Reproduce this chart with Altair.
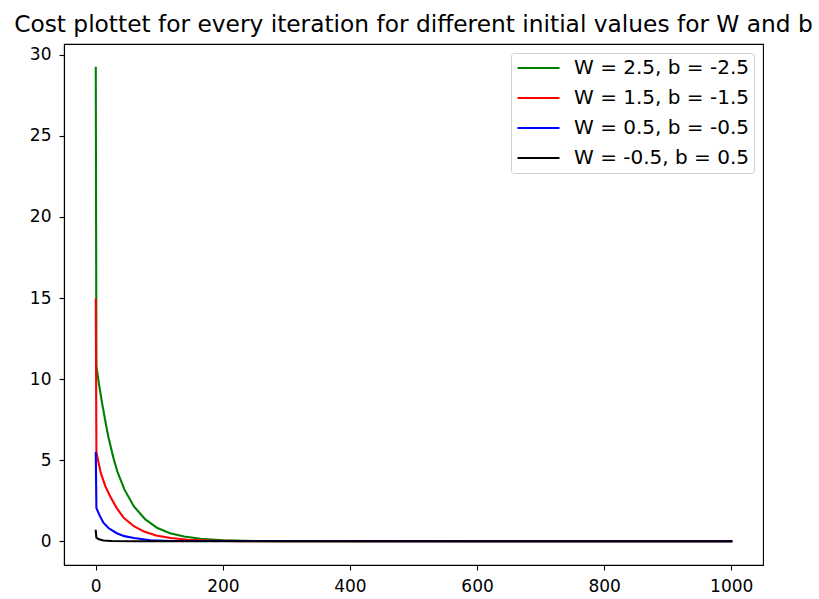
import altair as alt
import pandas as pd

# Series labels and line colours (green, red, blue, black)
labels = ["W = 2.5, b = -2.5", "W = 1.5, b = -1.5", "W = 0.5, b = -0.5", "W = -0.5, b = 0.5"]
colors = ["#008000", "#ff0000", "#0000ff", "#000000"]

# Cost per iteration for each starting point
green_iter = [0, 1, 5, 10, 16, 20, 28, 34, 45, 60, 78, 97, 117, 139, 165, 200, 250, 300, 1000]
green_cost = [29.2, 10.8, 9.7, 8.5, 7.2, 6.4, 5.1, 4.3, 3.2, 2.15, 1.35, 0.82, 0.5, 0.3, 0.16, 0.07, 0.02, 0.005, 0.0]

red_iter = [0, 1, 4, 8, 15, 23, 33, 44, 60, 76, 95, 118, 145, 180, 230, 300, 1000]
red_cost = [14.9, 5.5, 4.9, 4.2, 3.4, 2.75, 2.05, 1.45, 0.93, 0.6, 0.36, 0.2, 0.1, 0.04, 0.01, 0.0, 0.0]

blue_iter = [0, 1, 6, 12, 20, 33, 45, 60, 86, 120, 1000]
blue_cost = [5.45, 2.05, 1.6, 1.15, 0.82, 0.5, 0.32, 0.2, 0.07, 0.02, 0.0]

black_iter = [0, 1, 5, 12, 25, 60, 1000]
black_cost = [0.65, 0.22, 0.12, 0.05, 0.02, 0.0, 0.0]

x_ticks = [0, 200, 400, 600, 800, 1000]
y_ticks = [0, 5, 10, 15, 20, 25, 30]

series = [
    (labels[0], green_iter, green_cost),
    (labels[1], red_iter, red_cost),
    (labels[2], blue_iter, blue_cost),
    (labels[3], black_iter, black_cost),
]

rows = []
for name, its, costs in series:
    for i, c in zip(its, costs):
        rows.append({"series": name, "iteration": i, "cost": c})
df = pd.DataFrame(rows)

FONT = "DejaVu Sans"

axis_style = dict(
    grid=False,
    title=None,
    format="d",
    domainColor="black",
    domainWidth=1.1,
    tickColor="black",
    tickWidth=1.1,
    tickSize=5,
    labelFont=FONT,
    labelFontSize=17,
    labelColor="black",
    labelFlush=False,
    labelOverlap=False,
)

base = alt.Chart(df).mark_line(strokeWidth=2.1, strokeCap="square").encode(
    x=alt.X(
        "iteration:Q",
        scale=alt.Scale(domain=[-50, 1050], nice=False, zero=False),
        axis=alt.Axis(values=x_ticks, labelPadding=8, **axis_style),
    ),
    y=alt.Y(
        "cost:Q",
        scale=alt.Scale(domain=[-1.46, 30.66], nice=False, zero=False),
        axis=alt.Axis(values=y_ticks, labelPadding=8, **axis_style),
    ),
    color=alt.Color(
        "series:N",
        scale=alt.Scale(domain=labels, range=colors),
        legend=alt.Legend(
            title=None,
            orient="top-right",
            offset=9,
            symbolType="stroke",
            symbolSize=1764,
            symbolStrokeWidth=2.1,
            clipHeight=20,
            rowPadding=10,
            labelOffset=13,
            labelFont=FONT,
            labelFontSize=20,
            labelColor="black",
            labelLimit=400,
            padding=5,
            fillColor="white",
            strokeColor="#d0d0d0",
            cornerRadius=3,
        ),
    ),
)

# one layer per series so later curves sit on top of earlier ones
layers = [base.transform_filter(alt.datum.series == name) for name in labels]

chart = alt.layer(*layers).properties(
    width=699,
    height=521,
    autosize="none",
    padding={"left": 64, "top": 44, "right": 56, "bottom": 34},
    title=alt.TitleParams(
        "Cost plottet for every iteration for different initial values for W and b",
        font=FONT,
        fontSize=23.3,
        fontWeight="normal",
        color="black",
        anchor="middle",
        baseline="alphabetic",
        offset=14,
        dy=25,
    ),
).configure_view(stroke="black", strokeWidth=1.1)

chart.save("out.html", embed_options={"renderer": "svg", "actions": False})
